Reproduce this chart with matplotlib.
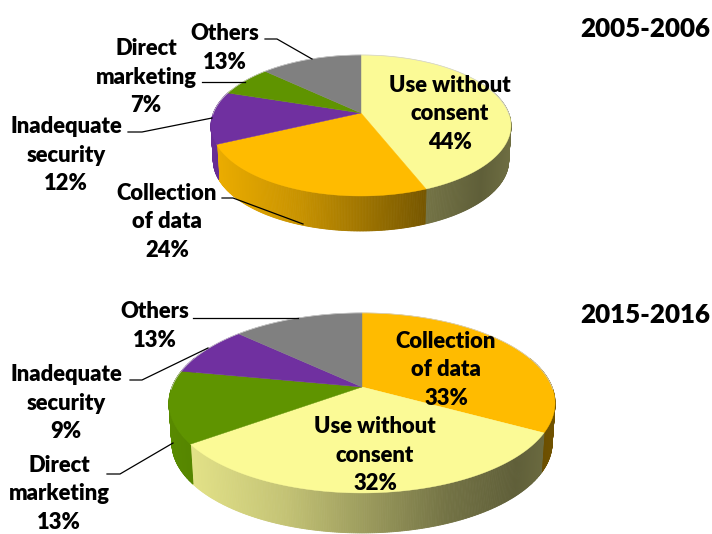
import numpy as np
import matplotlib
matplotlib.use("Agg")
import matplotlib.pyplot as plt

plt.rcParams['font.family'] = ['Lato', 'DejaVu Sans']

periods = ['2005-2006', '2015-2016']

names_2005 = ['Use without\nconsent', 'Collection\nof data', 'Inadequate\nsecurity', 'Direct\nmarketing', 'Others']
values_2005 = [44, 24, 12, 7, 13]

names_2015 = ['Collection\nof data', 'Use without\nconsent', 'Direct\nmarketing', 'Inadequate\nsecurity', 'Others']
values_2015 = [33, 32, 13, 9, 13]

colors = {
    'Use': '#FBFA96',
    'Col': '#FFBB00',
    'Ina': '#7030A0',
    'Dir': '#5F9400',
    'Oth': '#808080',
}

# perspective strength of the tilted disc
tilt = 0.177


def project(theta, cx, cy, bx, by, scale=1.0, drop=0):
    # theta runs clockwise from 12 o'clock, in radians
    u = np.sin(theta)
    v = np.cos(theta)
    w = 1 + tilt * v
    return cx + scale * bx * u / w, cy - by * v / w + drop


def wall_shade(t):
    # side wall is lit from the left, dark towards the right
    return np.interp(t, [0, 0.3, 0.72, 0.9, 1.0], [0.93, 0.78, 0.46, 0.38, 0.44])


def draw_pie(ax, names, values, cx, cy, bx, by, depth):
    vals = np.array(values, dtype=float)
    edges = np.concatenate([[0], np.cumsum(vals)]) / vals.sum() * 2 * np.pi
    slice_colors = [colors[n[:3]] for n in names]
    half = bx * 1.016

    # side wall, one thin strip per step
    for a0, a1, col in zip(edges[:-1], edges[1:], slice_colors):
        steps = np.linspace(a0, a1, max(int((a1 - a0) * 120), 2))
        base = np.array(matplotlib.colors.to_rgb(col))
        for t0, t1 in zip(steps[:-1], steps[1:]):
            if np.cos((t0 + t1) / 2) > 0.35:
                continue
            x0, y0 = project(t0, cx, cy, bx, by)
            x1, y1 = project(t1, cx, cy, bx, by)
            x2, y2 = project(t1, cx, cy, bx, by, 0.985, depth)
            x3, y3 = project(t0, cx, cy, bx, by, 0.985, depth)
            shade = wall_shade(((x0 + x1) / 2 - (cx - half)) / (2 * half))
            c = base * shade
            ax.fill([x0, x1, x2, x3], [y0, y1, y2, y3], color=c, lw=0.6, zorder=2)

    # top faces
    for a0, a1, col in zip(edges[:-1], edges[1:], slice_colors):
        t = np.linspace(a0, a1, 120)
        x, y = project(t, cx, cy, bx, by)
        ax.fill(np.r_[cx, x], np.r_[cy, y], color=col, lw=0.3, zorder=3)

    t = np.linspace(-1.6, 1.6, 150)
    x, y = project(t, cx, cy, bx, by)
    ax.plot(x, y, color='#cfcfcf', lw=0.5, zorder=3)


def leader(ax, xs, ys):
    ax.plot(xs, ys, color='black', lw=0.9, zorder=4, solid_joinstyle='miter')


def label(ax, x, y, name, value):
    ax.text(x, y, f'{name}\n{value}%', ha='center', va='center', fontsize=15.8,
            fontweight='heavy', linespacing=1.47, color='black', zorder=5)


fig = plt.figure(figsize=(7.12, 5.34), dpi=100)
ax = fig.add_axes([0, 0, 1, 1])
ax.set_xlim(0, 712)
ax.set_ylim(534, 0)
ax.axis('off')

# upper pie
draw_pie(ax, names_2005, values_2005, 361, 113, 147.6, 68.3, 35)
label(ax, 450, 114, names_2005[0], values_2005[0])
label(ax, 167, 222, names_2005[1], values_2005[1])
label(ax, 66, 155, names_2005[2], values_2005[2])
label(ax, 146, 77, names_2005[3], values_2005[3])
label(ax, 225, 48, names_2005[4], values_2005[4])
leader(ax, [265, 277, 312], [39, 39, 59])
leader(ax, [202, 245], [82, 82])
leader(ax, [128, 142, 212], [132, 132, 118])
leader(ax, [222, 233, 303], [198, 198, 224])

# lower pie
draw_pie(ax, names_2015, values_2015, 362, 387, 190, 87.2, 40)
label(ax, 446, 370, names_2015[0], values_2015[0])
label(ax, 375, 455, names_2015[1], values_2015[1])
label(ax, 59, 494, names_2015[2], values_2015[2])
label(ax, 66, 403, names_2015[3], values_2015[3])
label(ax, 155, 326, names_2015[4], values_2015[4])
leader(ax, [193, 298], [318, 318])
leader(ax, [130, 142, 208], [380, 380, 348])
leader(ax, [107, 120, 173], [474, 474, 443])

ax.text(710, 29, periods[0], ha='right', va='center', fontsize=18.7, fontweight='heavy')
ax.text(710, 315, periods[1], ha='right', va='center', fontsize=18.7, fontweight='heavy')

fig.savefig('out.png', dpi=100)
